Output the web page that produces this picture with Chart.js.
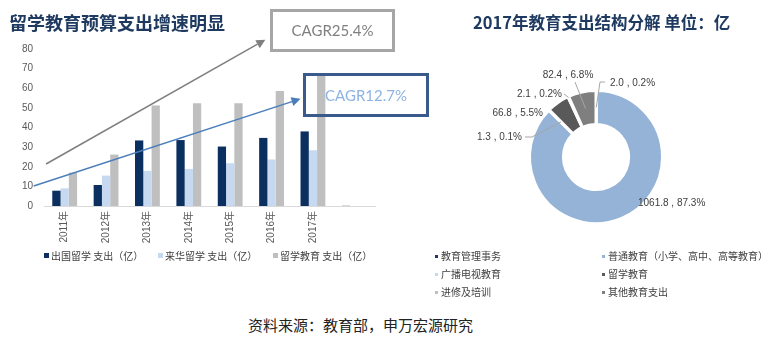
<!DOCTYPE html>
<html><head><meta charset="utf-8">
<script src="https://cdn.jsdelivr.net/npm/chart.js@4.4.1/dist/chart.umd.min.js"></script>
<style>
html,body{margin:0;padding:0;background:#fff;}
body{width:778px;height:339px;position:relative;overflow:hidden;font-family:"Liberation Sans","Noto Sans CJK SC",sans-serif;}
.abs{position:absolute;white-space:nowrap;}
#t1{left:9px;top:13px;font:bold 18px/18px "Noto Sans CJK SC";color:#1f3a60;}
#t2{left:473px;top:13px;font:bold 16.5px/18px "Noto Sans CJK SC";color:#1f3a60;}
#src{left:248px;top:317px;font:15px/16px "Noto Sans CJK SC";color:#222;}
.cagr{box-sizing:border-box;border:3px solid;text-align:center;font-family:Lato,"Liberation Sans",sans-serif;font-size:15px;background:transparent;}
#c1{left:270px;top:9px;width:125px;height:43px;line-height:37px;border-color:#a6a6a6;color:#7f7f7f;}
#c2{left:303px;top:73px;width:126px;height:44px;line-height:38px;border-color:#3b5a8c;color:#8db3e2;}
#barWrap{left:0;top:0;width:390px;height:250px;}
#pieWrap{left:446px;top:57px;width:300px;height:200px;}
.lg{font:10px/12px "Noto Sans CJK SC";color:#404040;}
.mk{position:absolute;}
</style></head>
<body>
<div class="abs" id="barWrap"><canvas id="bar" width="390" height="250"></canvas></div>
<div class="abs" id="pieWrap"><canvas id="pie" width="300" height="200"></canvas></div>
<div class="abs" id="t1">留学教育预算支出增速明显</div>
<div class="abs" id="t2">2017年教育支出结构分解 单位：亿</div>
<div class="abs cagr" id="c1">CAGR25.4%</div>
<div class="abs cagr" id="c2">CAGR12.7%</div>
<div class="abs" id="src">资料来源：教育部，申万宏源研究</div>
<div id="barLegend"></div>
<div id="pieLegend"></div>
<script>
// ---------- data ----------
const years = ['2011年','2012年','2013年','2014年','2015年','2016年','2017年',''];
const seriesNames = ['出国留学 支出（亿）','来华留学 支出（亿）','留学教育 支出（亿）'];
const outbound = [7.8,10.7,33.4,33.6,30.3,34.7,38.0,0.5];
const inbound  = [9.0,15.5,17.9,18.9,21.8,23.7,28.4,null];
const totalEdu = [17.0,26.2,51.2,52.3,52.3,58.6,66.4,null];
const yTicks = [0,10,20,30,40,50,60,70,80];

const segNames  = ['教育管理事务','普通教育（小学、高中、高等教育）','广播电视教育','留学教育','进修及培训','其他教育支出'];
const segValues = [2.0,1061.8,1.3,66.8,2.1,82.4];

// ---------- styles ----------
const barColors = ['#0b2f5f','#c6d9f0','#bfbfbf'];
const segColors = ['#1f3864','#95b3d7','#c5d9f1','#595959','#bfbfbf','#7f7f7f'];
// trend arrow annotations (category index, value)
const trendArrows = [
  {from:[-0.45,21.4], to:[4.85,84.7], color:'#7f7f7f'},
  {from:[-0.75,10.2], to:[5.70,54.6], color:'#4a7ebb'}
];

const arrowPlugin = {
  id:'arrows',
  afterDatasetsDraw(chart){
    const {ctx, scales:{x,y}} = chart;
    ctx.save();
    trendArrows.forEach(a=>{
      const x1=x.getPixelForValue(a.from[0]), y1=y.getPixelForValue(a.from[1]);
      const x2=x.getPixelForValue(a.to[0]), y2=y.getPixelForValue(a.to[1]);
      const ang=Math.atan2(y2-y1,x2-x1), hl=9, hw=4.5;
      const bx=x2-hl*Math.cos(ang), by=y2-hl*Math.sin(ang);
      ctx.strokeStyle=a.color; ctx.fillStyle=a.color; ctx.lineWidth=1.5;
      ctx.beginPath(); ctx.moveTo(x1,y1); ctx.lineTo(bx,by); ctx.stroke();
      ctx.beginPath(); ctx.moveTo(x2,y2);
      ctx.lineTo(bx+hw*Math.sin(ang), by-hw*Math.cos(ang));
      ctx.lineTo(bx-hw*Math.sin(ang), by+hw*Math.cos(ang));
      ctx.closePath(); ctx.fill();
    });
    ctx.restore();
  }
};

const fontFam = '"Liberation Sans","Noto Sans CJK SC",sans-serif';

new Chart(document.getElementById('bar'),{
  type:'bar',
  data:{
    labels:years,
    datasets:[
      {label:seriesNames[0],data:outbound,backgroundColor:outbound.map((v,i)=>i===7?'#d9d9d9':barColors[0])},
      {label:seriesNames[1],data:inbound,backgroundColor:barColors[1]},
      {label:seriesNames[2],data:totalEdu,backgroundColor:barColors[2]}
    ]
  },
  options:{
    responsive:false,animation:false,
    categoryPercentage:0.6,barPercentage:1.0,
    layout:{padding:{top:49,left:10,right:15,bottom:0}},
    plugins:{legend:{display:false},tooltip:{enabled:false}},
    scales:{
      x:{grid:{display:false,drawTicks:false},border:{color:'#d9d9d9',width:1},
         ticks:{minRotation:90,maxRotation:90,autoSkip:false,padding:5,color:'#595959',font:{size:10,family:fontFam}},
         afterFit(s){s.height=44;}},
      y:{min:0,max:80,grid:{display:false,drawTicks:false},border:{display:false},
         afterBuildTicks(s){s.ticks=yTicks.map(v=>({value:v}));},
         ticks:{padding:11,color:'#595959',font:{size:10,family:fontFam}},
         afterFit(s){s.width=34;}}
    }
  },
  plugins:[arrowPlugin]
});

// HTML legend for bars
const bl = document.getElementById('barLegend');
seriesNames.forEach((n,i)=>{
  const x=[44,158,273][i], y=256;
  const mk=document.createElement('div');
  mk.className='mk'; mk.style.cssText=`left:${x}px;top:${y-3}px;width:5px;height:5px;background:${barColors[i]}`;
  const t=document.createElement('div');
  t.className='abs lg'; t.style.left=(x+7)+'px'; t.style.top=(y-6)+'px'; t.textContent=n;
  bl.appendChild(mk); bl.appendChild(t);
});

// ---------- doughnut ----------
const segTotal = segValues.reduce((a,b)=>a+b,0);
// label placement relative to ring centre (layout only)
const labelLayout = [
  {dx:14, dy:-74, align:'left',  line:[[9,-75],[4,-75]], r:'mid'},
  {dx:42, dy:46,  align:'left',  line:null},
  {dx:-74,dy:-20, align:'right', line:[[-71,-20],[-64,-20]], r:'mid'},
  {dx:-53,dy:-44, align:'right', line:null},
  {dx:-34,dy:-63, align:'right', line:[[-32,-63]], r:'outer'},
  {dx:-28,dy:-82, align:'center',line:[[-21,-75]], r:'mid'}
];
const pieLabelPlugin = {
  id:'pieLabels',
  afterDatasetsDraw(chart){
    const {ctx} = chart;
    const arcs = chart.getDatasetMeta(0).data;
    ctx.save();
    ctx.font = '10px '+fontFam;
    ctx.fillStyle='#404040';
    ctx.textBaseline='middle';
    arcs.forEach((arc,i)=>{
      const L = labelLayout[i];
      const p = arc.getProps(['x','y','startAngle','endAngle','innerRadius','outerRadius'],true);
      const cx=p.x, cy=p.y;
      if(L.line){
        const mid=(p.startAngle+p.endAngle)/2;
        const rr = L.r==='outer' ? p.outerRadius-1 : (p.innerRadius+p.outerRadius)/2;
        ctx.strokeStyle='#a6a6a6'; ctx.lineWidth=1;
        ctx.beginPath();
        L.line.forEach((pt,k)=>{ if(k===0) ctx.moveTo(cx+pt[0],cy+pt[1]); else ctx.lineTo(cx+pt[0],cy+pt[1]); });
        ctx.lineTo(cx+Math.cos(mid)*rr, cy+Math.sin(mid)*rr);
        ctx.stroke();
      }
      const v=segValues[i];
      const txt = v.toFixed(1)+' , '+(v/segTotal*100).toFixed(1)+'%';
      ctx.textAlign=L.align;
      ctx.fillText(txt,cx+L.dx,cy+L.dy);
    });
    ctx.restore();
  }
};

new Chart(document.getElementById('pie'),{
  type:'doughnut',
  data:{labels:segNames,datasets:[{data:segValues,backgroundColor:segColors,borderColor:'#ffffff',borderWidth:3}]},
  options:{
    responsive:false,animation:false,cutout:'49%',
    layout:{padding:{top:32,bottom:32,left:82,right:82}},
    plugins:{legend:{display:false},tooltip:{enabled:false}}
  },
  plugins:[pieLabelPlugin]
});

// HTML legend for doughnut, two columns
const lg = document.getElementById('pieLegend');
segNames.forEach((n,i)=>{
  const col=i%2, row=Math.floor(i/2);
  const x = col===0?435:602, y=[256,274,292][row];
  const mk=document.createElement('div');
  mk.className='mk'; mk.style.cssText=`left:${x}px;top:${y-1}px;width:3px;height:3px;background:${segColors[i]}`;
  const t=document.createElement('div');
  t.className='abs lg'; t.style.left=(x+6)+'px'; t.style.top=(y-6)+'px'; t.textContent=n;
  lg.appendChild(mk); lg.appendChild(t);
});
</script>
</body></html>
